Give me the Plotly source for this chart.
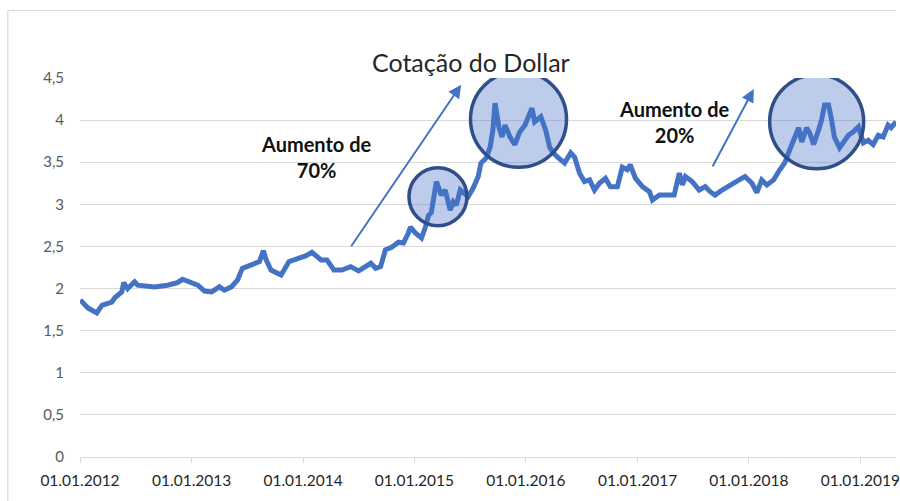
import plotly.graph_objects as go

# ---- data ----
dates = [
    "2012-01-02", "2012-01-27", "2012-02-25", "2012-03-13", "2012-04-14", "2012-04-24",
    "2012-05-17", "2012-05-23", "2012-06-05", "2012-06-28", "2012-07-08", "2012-09-01",
    "2012-10-14", "2012-11-15", "2012-12-02", "2012-12-24", "2013-01-21", "2013-02-12",
    "2013-03-07", "2013-04-02", "2013-04-18", "2013-05-11", "2013-05-31", "2013-06-16",
    "2013-07-19", "2013-08-11", "2013-08-24", "2013-09-02", "2013-09-18", "2013-10-21",
    "2013-11-16", "2013-12-12", "2014-01-11", "2014-01-30", "2014-03-01", "2014-03-20",
    "2014-04-12", "2014-05-08", "2014-06-06", "2014-07-02", "2014-08-11", "2014-08-27",
    "2014-09-12", "2014-09-28", "2014-10-18", "2014-11-10", "2014-11-26", "2014-12-12",
    "2014-12-19", "2015-01-04", "2015-01-24", "2015-02-06", "2015-02-16", "2015-02-25",
    "2015-03-14", "2015-03-30", "2015-04-12", "2015-04-28", "2015-05-08", "2015-05-18",
    "2015-05-31", "2015-06-10", "2015-06-26", "2015-07-12", "2015-07-29", "2015-08-07",
    "2015-08-24", "2015-09-06", "2015-09-15", "2015-09-22", "2015-10-05", "2015-10-15",
    "2015-10-25", "2015-11-10", "2015-11-26", "2015-12-12", "2015-12-29", "2016-01-21",
    "2016-01-30", "2016-02-19", "2016-03-06", "2016-03-19", "2016-03-29", "2016-04-14",
    "2016-05-07", "2016-05-27", "2016-06-09", "2016-06-25", "2016-07-11", "2016-07-28",
    "2016-08-13", "2016-08-29", "2016-09-18", "2016-10-04", "2016-10-27", "2016-11-12",
    "2016-11-28", "2016-12-08", "2016-12-25", "2017-01-17", "2017-02-09", "2017-02-19",
    "2017-03-14", "2017-04-09", "2017-05-01", "2017-05-18", "2017-05-28", "2017-06-07",
    "2017-06-29", "2017-07-22", "2017-08-11", "2017-08-27", "2017-09-12", "2017-10-05",
    "2017-11-07", "2017-11-30", "2017-12-19", "2018-01-11", "2018-01-27", "2018-02-12",
    "2018-03-01", "2018-03-23", "2018-04-12", "2018-04-28", "2018-05-15", "2018-05-31",
    "2018-06-13", "2018-06-23", "2018-07-09", "2018-07-19", "2018-08-01", "2018-08-17",
    "2018-08-27", "2018-09-06", "2018-09-19", "2018-09-29", "2018-10-08", "2018-10-25",
    "2018-11-07", "2018-11-23", "2018-12-09", "2018-12-26", "2019-01-11", "2019-01-27",
    "2019-02-12", "2019-03-01", "2019-03-17", "2019-04-02", "2019-04-12", "2019-04-28",
]
values = [
    1.865, 1.77, 1.71, 1.80, 1.84, 1.89,
    1.96, 2.07, 2.00, 2.08, 2.04, 2.02,
    2.04, 2.07, 2.11, 2.08, 2.04, 1.97,
    1.96, 2.02, 1.98, 2.02, 2.10, 2.24,
    2.28, 2.32, 2.45, 2.34, 2.22, 2.16,
    2.32, 2.35, 2.39, 2.43, 2.34, 2.34,
    2.22, 2.22, 2.26, 2.21, 2.30, 2.24,
    2.26, 2.46, 2.49, 2.55, 2.54, 2.66,
    2.73, 2.66, 2.60, 2.73, 2.87, 2.90,
    3.27, 3.11, 3.17, 2.93, 3.03, 2.99,
    3.17, 3.14, 3.09, 3.19, 3.33, 3.49,
    3.55, 3.68, 3.88, 4.20, 3.91, 3.80,
    3.94, 3.80, 3.71, 3.86, 3.94, 4.14,
    3.98, 4.04, 3.88, 3.68, 3.62, 3.56,
    3.49, 3.61, 3.56, 3.37, 3.27, 3.29,
    3.17, 3.25, 3.31, 3.21, 3.21, 3.44,
    3.41, 3.47, 3.31, 3.21, 3.15, 3.05,
    3.11, 3.11, 3.11, 3.37, 3.23, 3.33,
    3.27, 3.17, 3.21, 3.15, 3.11, 3.17,
    3.25, 3.29, 3.33, 3.25, 3.14, 3.29,
    3.23, 3.29, 3.41, 3.49, 3.65, 3.80,
    3.91, 3.74, 3.91, 3.85, 3.71, 3.88,
    4.00, 4.18, 4.18, 4.00, 3.80, 3.67,
    3.73, 3.82, 3.86, 3.92, 3.73, 3.76,
    3.71, 3.82, 3.80, 3.94, 3.91, 3.98,
]

title_text = "Cotação do Dollar"
note_texts = ["Aumento de<br>70%", "Aumento de<br>20%"]
note_dates = ["2014-02-15", "2017-05-01"]
note_values = [3.56, 3.98]
arrow_dates = ["2015-06-03", "2018-01-17"]
arrow_values = [4.42, 4.37]
circle_dates = ["2015-03-19", "2015-12-08", "2018-08-11"]
circle_values = [3.09, 4.01, 3.98]
circle_radii = [29, 48, 47]

BLUE = "#4472C4"
GRID = "#D9D9D9"
FONT = "Lato"

fig = go.Figure()
fig.add_trace(go.Scatter(x=dates, y=values, mode="lines",
                         line=dict(color=BLUE, width=5), showlegend=False,
                         hoverinfo="skip"))

W, H = 900, 501
L, R, T, B = 80, 0, 78, 44
pw, ph = W - L - R, H - T - B

def px_x(p):
    return (p - L) / pw

def px_y(p):
    return (H - B - p) / ph

shapes = []
for d, v, r in zip(circle_dates, circle_values, circle_radii):
    shapes.append(dict(type="circle", xref="x", yref="y",
                       xsizemode="pixel", ysizemode="pixel",
                       xanchor=d, yanchor=v, x0=-r, x1=r, y0=-r, y1=r,
                       fillcolor="rgba(68,114,196,0.36)",
                       line=dict(color="#2F4F8A", width=3.5), layer="above"))
# outer chart border (left and top visible)
shapes.append(dict(type="line", xref="paper", yref="paper",
                   x0=px_x(7.5), x1=px_x(7.5), y0=px_y(10.5), y1=px_y(501),
                   line=dict(color=GRID, width=1.2)))
shapes.append(dict(type="line", xref="paper", yref="paper",
                   x0=px_x(7.5), x1=px_x(900), y0=px_y(10.5), y1=px_y(10.5),
                   line=dict(color=GRID, width=1.2)))

annotations = [dict(text=title_text, xref="paper", yref="paper",
                    x=px_x(473), y=px_y(45), showarrow=False,
                    font=dict(family=FONT, size=25, color="#262626"))]
for t, d, v in zip(note_texts, note_dates, note_values):
    annotations.append(dict(text="<b>" + t + "</b>", x=d, y=v, xref="x", yref="y",
                            showarrow=False, align="center",
                            font=dict(family=FONT, size=20, color="#111111")))
tails = [(-111, 163), (-42, 79)]
for d, v, (ax, ay) in zip(arrow_dates, arrow_values, tails):
    annotations.append(dict(text="", x=d, y=v, xref="x", yref="y",
                            ax=ax, ay=ay, showarrow=True, arrowhead=2,
                            arrowsize=1.3, arrowwidth=2, arrowcolor=BLUE))

fig.update_layout(
    width=W, height=H,
    margin=dict(l=L, r=R, t=T, b=B),
    paper_bgcolor="white", plot_bgcolor="white",
    separators=", ",
    shapes=shapes, annotations=annotations,
    font=dict(family=FONT),
)
fig.update_xaxes(type="date", range=["2012-01-01", "2019-04-28"],
                 tick0="2012-01-01", dtick="M12", tickformat="%d.%m.%Y",
                 showgrid=False, showline=True, linecolor=GRID, linewidth=1,
                 ticks="outside", ticklen=5, tickcolor=GRID,
                 ticklabeloverflow="allow", ticklabelstandoff=4,
                 tickfont=dict(family=FONT, size=15.5, color="#262626"))
fig.update_yaxes(range=[0, 4.5], dtick=0.5, showgrid=True, gridcolor=GRID,
                 gridwidth=1, zeroline=False, showline=False,
                 tickfont=dict(family=FONT, size=15, color="#595959"),
                 ticklabelstandoff=15)

fig.write_html(
    "out.html",
    config={"displayModeBar": False},
    post_script="document.body.style.margin='0';document.body.style.overflow='hidden';",
)
